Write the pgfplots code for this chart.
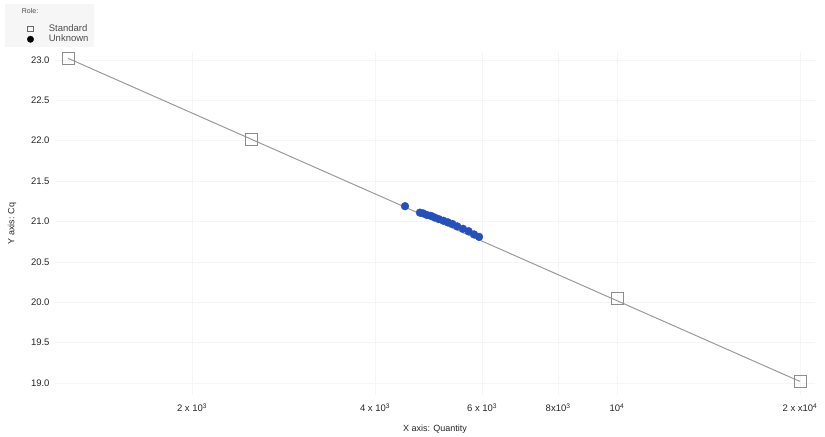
\documentclass[border=0pt]{standalone}
\usepackage{fontspec}
\setmainfont{Liberation Sans}
\usepackage{pgfplots}
\pgfplotsset{compat=1.18}
\definecolor{stdgray}{HTML}{8C8C8C}
\definecolor{linegray}{HTML}{9A9A9A}
\definecolor{unkblue}{HTML}{2350BC}
\begin{document}
\begin{tikzpicture}
\path[use as bounding box] (-55bp,-42bp) rectangle (770bp,395bp);
\begin{axis}[
  at={(0,0)}, anchor=south west,
  scale only axis, width=760bp, height=343bp,
  xmode=log, log basis x=10,
  xmin=1190, xmax=21170,
  ymin=18.853, ymax=23.098,
  axis line style={draw=none},
  tick style={draw=none},
  xtick={2000,4000,6000,8000,10000,20000},
  xticklabels={2 x 10\textsuperscript{3},4 x 10\textsuperscript{3},6 x 10\textsuperscript{3},8x10\textsuperscript{3},10\textsuperscript{4},2 x x10\textsuperscript{4}},
  minor xtick={},
  ytick={19.0,19.5,20.0,20.5,21.0,21.5,22.0,22.5,23.0},
  /pgf/number format/assume math mode=true,
  ticklabel style={font=\fontsize{9.5bp}{11bp}\selectfont, text=black!85},
  xticklabel style={yshift=-5bp},
  yticklabel style={xshift=-2bp, /pgf/number format/.cd, fixed, fixed zerofill, precision=1},
  xmajorgrids, ymajorgrids,
  major grid style={draw=gray!8, line width=0.6bp},
  xlabel={X axis: Quantity},
  ylabel={Y axis: Cq},
  label style={font=\fontsize{9bp}{11bp}\selectfont, text=black!85},
  xlabel style={yshift=-6bp},
  ylabel style={yshift=8bp},
  legend style={at={(-0.0658,1.140)}, anchor=north west,
    fill=gray!7, draw=none, font=\fontsize{9.5bp}{10bp}\selectfont,
    text=black!70, row sep=-2bp, inner xsep=4bp, inner ysep=2bp},
  legend cell align=left,
]
\addlegendimage{empty legend}
\addlegendentry{\hspace{-14bp}\raisebox{8bp}{\fontsize{7bp}{7bp}\selectfont Role:}}
% regression line through standards
\addplot[linegray, line width=1bp, forget plot] coordinates {(1250,23.02) (20000,19.02)};
% standards
\addplot[only marks, mark=square, mark size=6bp, draw=stdgray, line width=0.9bp,
  legend image code/.code={\draw[draw=black!60, line width=0.7bp] (0.65cm,-0.1cm) rectangle (0.85cm,0.1cm);}] coordinates {
(1250,23.02)
(2500,22.01)
(10000,20.05)
(20000,19.02)
};
\addlegendentry{\hspace{13bp}Standard\hspace{12bp}}
% unknowns
\addplot[only marks, mark=*, mark size=3.9bp, draw=unkblue, fill=unkblue, forget plot] coordinates {
(4480,21.19)
(4740,21.11)
(4800,21.10)
(4870,21.08)
(4940,21.07)
(5010,21.05)
(5090,21.03)
(5180,21.01)
(5270,20.99)
(5360,20.97)
(5460,20.94)
(5580,20.91)
(5700,20.88)
(5820,20.84)
(5930,20.81)
};
\addlegendimage{legend image code/.code={\fill[black] (0.75cm,0cm) circle (3.2bp);}}
\addlegendentry{\hspace{13bp}Unknown}
\end{axis}
\end{tikzpicture}
\end{document}
